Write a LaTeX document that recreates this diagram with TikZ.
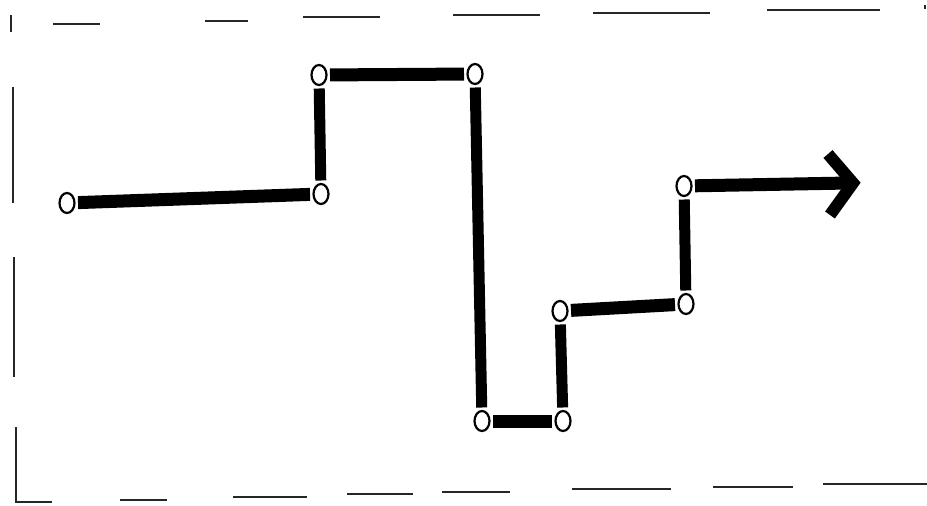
\documentclass[tikz,border=0pt]{standalone}
\usetikzlibrary{shapes.geometric,calc}
\begin{document}
\begin{tikzpicture}[x=1pt,y=-1pt,
  dot/.style={draw, ellipse, line width=2.2pt, minimum width=15pt, minimum height=20pt, inner sep=0pt, outer sep=3.5pt},
  hbar/.style={line width=13pt},
  vbar/.style={line width=11pt},
  chev/.style={line width=12pt, line join=miter},
  frame/.style={line width=1.6pt, draw=black!85}]
\fill[white] (0,0) rectangle (927,506);
\useasboundingbox (0,0) rectangle (927,506);
% frame
\draw[frame] (53,24) -- (100,24);
\draw[frame] (205,21) -- (248,21);
\draw[frame] (303,17) -- (380,17);
\draw[frame] (453,15) -- (540,15);
\draw[frame] (593,13) -- (710,13);
\draw[frame] (767,10) -- (880,10);
\draw[frame] (925,5) -- (925,9);
\draw[frame] (11,15) -- (11,32);
\draw[frame] (13,87) -- (13,203);
\draw[frame] (14,257) -- (14,377);
\draw[frame] (16,427) -- (16,502) -- (52,502);
\draw[frame] (120,500) -- (167,500);
\draw[frame] (233,497) -- (307,497);
\draw[frame] (347,494) -- (413,494);
\draw[frame] (442,492) -- (510,492);
\draw[frame] (572,489) -- (671,489);
\draw[frame] (713,487) -- (793,487);
\draw[frame] (823,484) -- (927,484);
% nodes
\node[dot] (n1) at (67,203) {};
\node[dot] (n2) at (321,194) {};
\node[dot] (n3) at (319,75) {};
\node[dot] (n4) at (475,74) {};
\node[dot] (n5) at (482,421) {};
\node[dot] (n6) at (563,421) {};
\node[dot] (n7) at (560,311) {};
\node[dot] (n8) at (686,304) {};
\node[dot] (n9) at (684,186) {};
\coordinate (tip) at (853,183);
% connectors
\draw[hbar] (n1) -- (n2);
\draw[vbar] (n2) -- (n3);
\draw[hbar] (n3) -- (n4);
\draw[vbar] (n4) -- (n5);
\draw[hbar] (n5) -- (n6);
\draw[vbar] (n6) -- (n7);
\draw[hbar] (n7) -- (n8);
\draw[vbar] (n8) -- (n9);
\draw[hbar] (n9) -- ($(tip)+(-4,0)$);
\draw[chev] ($(tip)+(-25,-29)$) -- (tip) -- ($(tip)+(-23,32)$);
\end{tikzpicture}
\end{document}
